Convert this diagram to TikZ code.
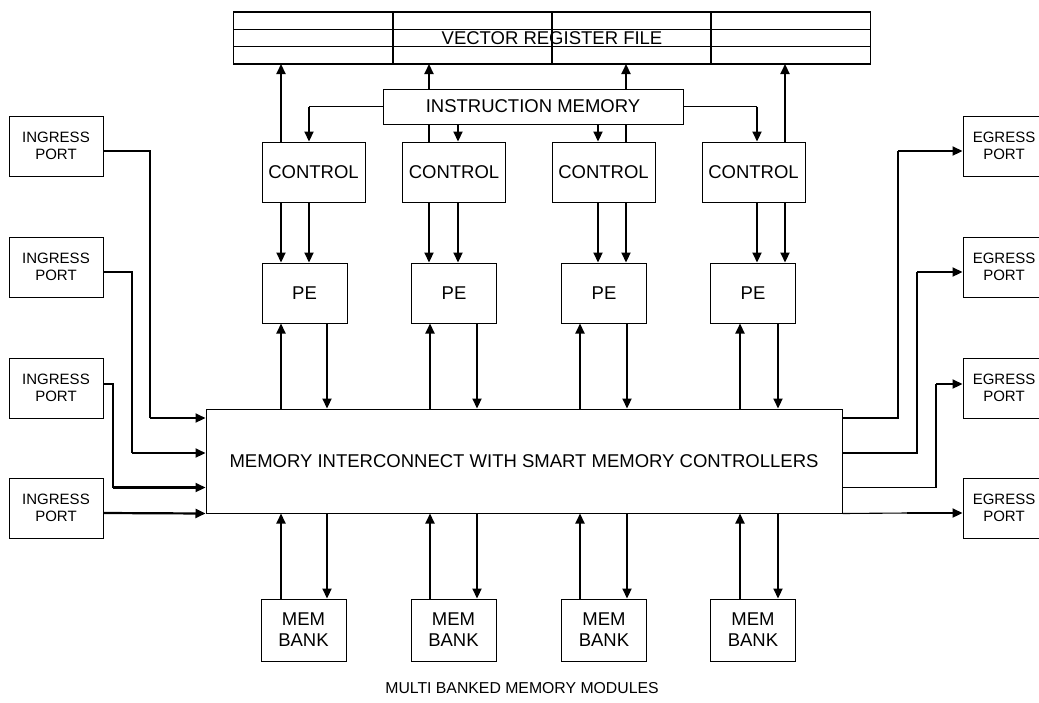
\documentclass[tikz,border=0pt]{standalone}
\usepackage{fontspec}
\setmainfont{Liberation Sans}
\usetikzlibrary{arrows.meta,calc}

\begin{document}
\begin{tikzpicture}[x=1pt, y=-1pt,
		blk/.style={draw, rectangle, line width=1pt, inner sep=0pt, align=center, fill=white, font=\fontsize{18.5}{21}\selectfont},
		port/.style={draw, rectangle, line width=1pt, inner sep=0pt, align=center, minimum height=60pt, font=\fontsize{15}{16.5}\selectfont},
		arr/.style={line width=2.2pt, -{Triangle[length=10pt,width=9pt]}},
		bus/.style={arr},
		thinline/.style={line width=1.1pt},
		vrfline/.style={line width=1.6pt}]
				\useasboundingbox (0,0) rectangle (1039,702);
				\node[blk, draw=none, fill=none, minimum width=636pt, minimum height=51pt] (VRF)at(552, 38) {VECTOR REGISTER FILE};
				\draw[vrfline] (VRF.north west) rectangle (VRF.south east);
				\draw[vrfline] ($(VRF.north west)!0.3333!(VRF.south west)$) -- ($(VRF.north east)!0.3333!(VRF.south east)$);
				\draw[vrfline] ($(VRF.north west)!0.6667!(VRF.south west)$) -- ($(VRF.north east)!0.6667!(VRF.south east)$);
				\draw[vrfline] ($(VRF.north west)!0.25!(VRF.north east)$) -- ($(VRF.south west)!0.25!(VRF.south east)$);
				\draw[vrfline] ($(VRF.north west)!0.5!(VRF.north east)$) -- ($(VRF.south west)!0.5!(VRF.south east)$);
				\draw[vrfline] ($(VRF.north west)!0.75!(VRF.north east)$) -- ($(VRF.south west)!0.75!(VRF.south east)$);

				\node[blk, minimum width=103pt, minimum height=60pt] (C1)at(313.5, 172) {CONTROL};
				\node[blk, minimum width=103pt, minimum height=60pt] (C2)at(454, 172) {CONTROL};
				\node[blk, minimum width=103pt, minimum height=60pt] (C3)at(603.5, 172) {CONTROL};
				\node[blk, minimum width=103pt, minimum height=60pt] (C4)at(753.5, 172) {CONTROL};

				\draw[bus] (C1.north -| 281,0) -- (VRF.south -| 281,0);
				\draw[bus] (C2.north -| 429,0) -- (VRF.south -| 429,0);
				\draw[bus] (C3.north -| 626,0) -- (VRF.south -| 626,0);
				\draw[bus] (C4.north -| 785,0) -- (VRF.south -| 785,0);

				\node[blk, minimum width=300pt, minimum height=35pt] (IM)at(533, 106.5) {INSTRUCTION MEMORY};
				\draw[thinline] (IM.west) -- (IM.west -| 309,0);
				\draw[arr] (IM.west -| 309,0) -- (C1.north -| 309,0);
				\draw[arr] (IM.south -| 458,0) -- (C2.north -| 458,0);
				\draw[arr] (IM.south -| 598,0) -- (C3.north -| 598,0);
				\draw[thinline] (IM.east) -- (IM.east -| 757,0);
				\draw[arr] (IM.east -| 757,0) -- (C4.north -| 757,0);

				\node[blk, minimum width=85pt, minimum height=60pt] (PE1)at(304.5, 293) {PE};
				\node[blk, minimum width=85pt, minimum height=60pt] (PE2)at(454, 293) {PE};
				\node[blk, minimum width=85pt, minimum height=60pt] (PE3)at(604, 293) {PE};
				\node[blk, minimum width=85pt, minimum height=60pt] (PE4)at(753, 293) {PE};

				\draw[bus] (C1.south -| 281,0) -- (PE1.north -| 281,0);
				\draw[arr] (C1.south -| 309,0) -- (PE1.north -| 309,0);
				\draw[bus] (C2.south -| 429,0) -- (PE2.north -| 429,0);
				\draw[arr] (C2.south -| 458,0) -- (PE2.north -| 458,0);
				\draw[arr] (C3.south -| 598,0) -- (PE3.north -| 598,0);
				\draw[bus] (C3.south -| 626,0) -- (PE3.north -| 626,0);
				\draw[arr] (C4.south -| 757,0) -- (PE4.north -| 757,0);
				\draw[bus] (C4.south -| 785,0) -- (PE4.north -| 785,0);

				\node[blk, minimum width=636pt, minimum height=104pt] (IC)at(524, 461) {MEMORY INTERCONNECT WITH SMART MEMORY CONTROLLERS};

				\draw[arr] (IC.north -| 281,0) -- (PE1.south -| 281,0);
				\draw[arr] (PE1.south -| 327,0) -- (IC.north -| 327,0);
				\draw[arr] (IC.north -| 430,0) -- (PE2.south -| 430,0);
				\draw[arr] (PE2.south -| 477,0) -- (IC.north -| 477,0);
				\draw[arr] (IC.north -| 580,0) -- (PE3.south -| 580,0);
				\draw[arr] (PE3.south -| 627,0) -- (IC.north -| 627,0);
				\draw[arr] (IC.north -| 740,0) -- (PE4.south -| 740,0);
				\draw[arr] (PE4.south -| 778,0) -- (IC.north -| 778,0);

				\node[blk, minimum width=85pt, minimum height=62pt] (MB1)at(303.5, 630) {MEM\\BANK};
				\node[blk, minimum width=85pt, minimum height=62pt] (MB2)at(453.5, 630) {MEM\\BANK};
				\node[blk, minimum width=85pt, minimum height=62pt] (MB3)at(604, 630) {MEM\\BANK};
				\node[blk, minimum width=85pt, minimum height=62pt] (MB4)at(753, 630) {MEM\\BANK};

				\draw[arr] (MB1.north -| 281,0) -- (IC.south -| 281,0);
				\draw[arr] (IC.south -| 327,0) -- (MB1.north -| 327,0);
				\draw[arr] (MB2.north -| 430,0) -- (IC.south -| 430,0);
				\draw[arr] (IC.south -| 477,0) -- (MB2.north -| 477,0);
				\draw[arr] (MB3.north -| 580,0) -- (IC.south -| 580,0);
				\draw[arr] (IC.south -| 627,0) -- (MB3.north -| 627,0);
				\draw[arr] (MB4.north -| 740,0) -- (IC.south -| 740,0);
				\draw[arr] (IC.south -| 778,0) -- (MB4.north -| 778,0);

				\node[font=\fontsize{15.8}{18}\selectfont] (CAP)at(522, 688) {MULTI BANKED MEMORY MODULES};

				\node[port, minimum width=94pt] (IP1)at(56, 146) {INGRESS\\PORT};
				\node[port, minimum width=94pt] (IP2)at(56, 267) {INGRESS\\PORT};
				\node[port, minimum width=94pt] (IP3)at(56, 388) {INGRESS\\PORT};
				\node[port, minimum width=94pt] (IP4)at(56, 508) {INGRESS\\PORT};

				\coordinate (i1) at (150, 418);
				\coordinate (i2) at (132, 453);
				\coordinate (i3) at (113, 487.5);
				\draw[thinline] ([yshift=-5pt]IP1.east) -| (i1);
				\draw[arr] (i1) -- (i1 -| IC.west);
				\draw[thinline] ([yshift=-5pt]IP2.east) -| (i2);
				\draw[arr] (i2) -- (i2 -| IC.west);
				\draw[thinline] ([yshift=4pt]IP3.east) -| (i3);
				\draw[arr] (i3) -- (i3 -| IC.west);
				\draw[arr] ([yshift=-5pt]IP4.east) -- (IC.south west);

				\node[port, minimum width=82pt] (EP1)at(1004, 146) {EGRESS\\PORT};
				\node[port, minimum width=82pt] (EP2)at(1004, 267) {EGRESS\\PORT};
				\node[port, minimum width=82pt] (EP3)at(1004, 388) {EGRESS\\PORT};
				\node[port, minimum width=82pt] (EP4)at(1004, 508) {EGRESS\\PORT};

				\coordinate (o1) at (898, 151);
				\coordinate (o2) at (917, 272);
				\coordinate (o3) at (936, 384);
				\coordinate (o4) at (907, 513);
				\draw[thinline] (IC.east |- i1) -| (o1);
				\draw[arr] (o1) -- (o1 -| EP1.west);
				\draw[thinline] (IC.east |- i2) -| (o2);
				\draw[arr] (o2) -- (o2 -| EP2.west);
				\draw[thinline] (IC.east |- i3) -| (o3);
				\draw[arr] (o3) -- (o3 -| EP3.west);
				\draw[thinline] (IC.south east) -- (o4);
				\draw[arr] (o4) -- (o4 -| EP4.west);
			\end{tikzpicture}
\end{document}
